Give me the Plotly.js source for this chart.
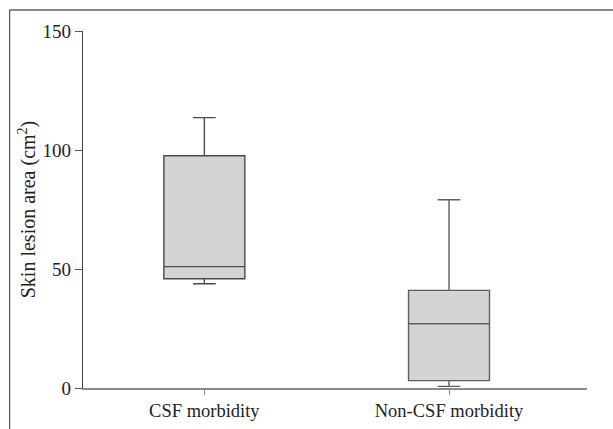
<!DOCTYPE html>
<html>
<head>
<meta charset="utf-8">
<script src="https://cdn.plot.ly/plotly-3.0.1.min.js"></script>
<style>
html,body{margin:0;padding:0;background:#fff;}
#chart{width:613px;height:429px;}
</style>
</head>
<body>
<div id="chart"></div>
<script>
var categories = ["CSF morbidity", "Non-CSF morbidity"];
var lowerFence = [43.8, 0.7];
var q1Values = [45.9, 3.1];
var medianValues = [51.0, 27.0];
var q3Values = [97.6, 41.0];
var upperFence = [113.6, 79.1];
var yTickValues = [0, 50, 100, 150];
var yTickLabels = ["0", "50", "100", "150"];

var fontFamily = "'Liberation Serif', 'DejaVu Serif', serif";

var traces = categories.map(function (c, i) {
  return {
    type: "box",
    x: [c],
    q1: [q1Values[i]],
    median: [medianValues[i]],
    q3: [q3Values[i]],
    lowerfence: [lowerFence[i]],
    upperfence: [upperFence[i]],
    width: 0.331,
    whiskerwidth: 0.28,
    fillcolor: "#d3d4d6",
    line: { color: i === 0 ? "#4a4a4a" : "#5e5e5e", width: 1.4 },
    boxpoints: false,
    hoverinfo: "skip",
    showlegend: false
  };
});

var layout = {
  width: 613,
  height: 429,
  margin: { l: 83, r: 26, t: 31, b: 41, pad: 0 },
  paper_bgcolor: "#ffffff",
  plot_bgcolor: "#ffffff",
  font: { family: fontFamily, size: 18, color: "#222" },
  showlegend: false,
  boxmode: "overlay",
  xaxis: {
    type: "category",
    range: [-0.496, 1.564],
    showgrid: false,
    zeroline: false,
    showline: true,
    linecolor: "#8a8a8a",
    linewidth: 1.5,
    ticks: "outside",
    ticklen: 5,
    tickcolor: "#8a8a8a",
    tickwidth: 1,
    tickfont: { family: fontFamily, size: 18.5, color: "#222" }
  },
  yaxis: {
    range: [0, 150],
    showgrid: false,
    zeroline: false,
    showline: true,
    linecolor: "#444",
    linewidth: 1.2,
    ticks: "outside",
    ticklen: 7,
    tickcolor: "#555",
    tickwidth: 1,
    tickvals: yTickValues,
    ticktext: yTickLabels,
    tickfont: { family: fontFamily, size: 19, color: "#222" },
    title: {
      text: "Skin lesion area (cm<sup>2</sup>)",
      font: { family: fontFamily, size: 20, color: "#222" },
      standoff: 1
    }
  },
  shapes: [
    { type: "line", xref: "paper", yref: "paper", x0: -0.146, x1: 1.06, y0: 1.0588, y1: 1.0588,
      line: { color: "#888", width: 2 } },
    { type: "line", xref: "paper", yref: "paper", x0: -0.1455, x1: -0.1455, y0: 1.0588, y1: -0.13,
      line: { color: "#333", width: 1 } }
  ]
};

Plotly.newPlot("chart", traces, layout, { staticPlot: true, displayModeBar: false });
</script>
</body>
</html>
